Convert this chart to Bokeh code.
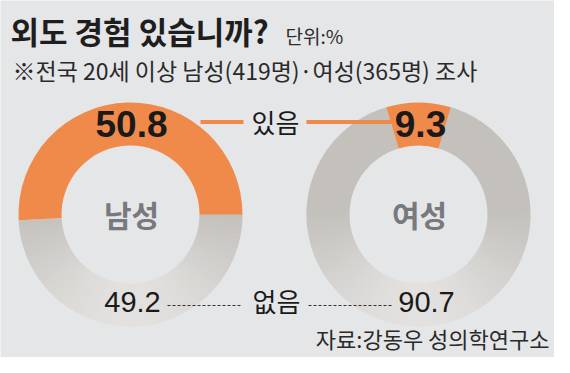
import numpy as np
from bokeh.plotting import figure
from bokeh.models import Range1d
from bokeh.core.properties import value
from bokeh.embed import file_html
from bokeh.resources import INLINE

# ---- data ----
title = "외도 경험 있습니까?"
unit = "단위:%"
subtitle = "※전국 20세 이상 남성(419명)·여성(365명) 조사"
source_note = "자료:강동우 성의학연구소"
groups = ["남성", "여성"]
yes_label = "있음"
no_label = "없음"
yes_pct = [50.8, 9.3]
no_pct = [49.2, 90.7]

# ---- style / layout ----
W, H = 554, 357
BG = "#e5e6e8"
ORANGE = "#ef8a4a"
KR = "Noto Sans CJK KR"
NUM = "Liberation Sans"
centers_x = [130, 418]
center_y = 143
R_OUT, R_IN = 112, 69
# left ring's orange starts at 3 o'clock, right ring's is centred at 12 o'clock
anchor = ["start", "center"]

p = figure(width=W, height=H, x_range=Range1d(0, W), y_range=Range1d(0, H),
           output_backend="svg", toolbar_location=None, min_border=0,
           x_axis_location=None, y_axis_location=None)
p.grid.visible = False
p.outline_line_color = None
p.background_fill_color = BG
p.border_fill_color = BG

c_top = np.array([196, 193, 189])
c_bot = np.array([226, 225, 223])

for cx, yes, no, anc in zip(centers_x, yes_pct, no_pct, anchor):
    span = 2 * np.pi * yes / 100.0
    if anc == "start":
        a0 = 0.0
    else:
        a0 = np.pi / 2 - span / 2
    a1 = a0 + span
    # gray part ("없음") drawn in small slices to imitate the vertical fade
    g_span = 2 * np.pi * no / 100.0
    n = max(2, int(np.ceil(g_span / np.radians(2.5))))
    edges = np.linspace(a1, a1 + g_span, n + 1)
    starts = edges[:-1]
    ends = edges[1:] + 0.012
    mids = (edges[:-1] + edges[1:]) / 2
    yrel = np.sin(mids)
    t = np.clip((0.05 - yrel) / 1.05, 0, 1) ** 1.25
    cols = []
    for ti in t:
        c = c_top + (c_bot - c_top) * ti
        cols.append("#%02x%02x%02x" % tuple(int(round(v)) for v in c))
    p.annular_wedge(x=[cx] * n, y=[center_y] * n, inner_radius=R_IN, outer_radius=R_OUT,
                    start_angle=list(starts), end_angle=list(ends),
                    fill_color=cols, line_color=None)
    p.annular_wedge(x=[cx], y=[center_y], inner_radius=R_IN, outer_radius=R_OUT,
                    start_angle=[a0], end_angle=[a1], fill_color=ORANGE, line_color=None)

# leader lines
mid_x = (centers_x[0] + centers_x[1]) / 2
p.segment(x0=[200, mid_x + 32], y0=[235.5, 235.5], x1=[mid_x - 31, 392], y1=[235.5, 235.5],
          line_color=ORANGE, line_width=4)
p.segment(x0=[167, mid_x + 34], y0=[52, 52], x1=[mid_x - 32, 391], y1=[52, 52],
          line_color="#333333", line_width=1, line_dash="3 2")

# title texts
p.text(x=[10], y=[327], text=[title], text_font=value(KR), text_font_size="31px",
       text_font_style="bold", text_color="#1e1e1e", text_baseline="middle")
p.text(x=[285], y=[322], text=[unit], text_font=value(KR), text_font_size="19px",
       text_color="#2a2a2a", text_baseline="middle")
p.text(x=[12], y=[288], text=[subtitle], text_font=value(KR), text_font_size="23px",
       text_color="#2a2a2a", text_baseline="middle")

# values
p.text(x=[centers_x[0] + 1, centers_x[1] + 2], y=[234, 234], text=[f"{v:.1f}" for v in yes_pct],
       text_font=value(NUM), text_font_size="37px", text_font_style="bold",
       text_color="#1a1a1a", text_align="center", text_baseline="middle")
p.text(x=[centers_x[0] + 2, centers_x[1] + 8], y=[56, 56], text=[f"{v:.1f}" for v in no_pct],
       text_font=value(NUM), text_font_size="29px",
       text_color="#1a1a1a", text_align="center", text_baseline="middle")

# labels
p.text(x=[mid_x + 1, mid_x + 2], y=[236, 57], text=[yes_label, no_label], text_font=value(KR),
       text_font_size="26px", text_color="#1a1a1a", text_align="center", text_baseline="middle")
p.text(x=[cx + 1 for cx in centers_x], y=[144, 144], text=groups, text_font=value(KR),
       text_font_size="30px", text_font_style="bold", text_color="#77797d",
       text_align="center", text_baseline="middle")

p.text(x=[549], y=[20], text=[source_note], text_font=value(KR), text_font_size="22px",
       text_color="#2a2a2a", text_align="right", text_baseline="middle")

open("out.html", "w").write(file_html(p, INLINE))
